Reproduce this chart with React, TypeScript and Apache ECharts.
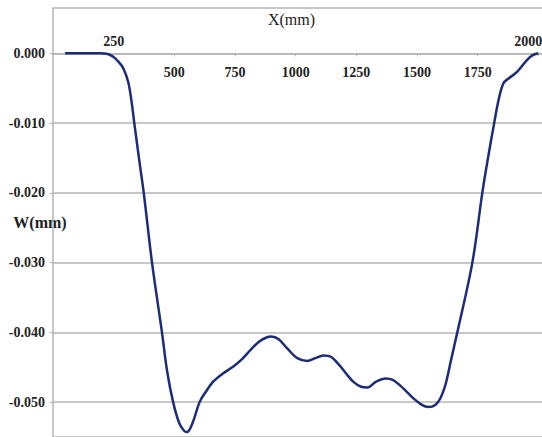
import React, { useEffect, useRef } from "react";
import * as echarts from "echarts";

const xValues = [
  50, 100, 150, 194, 225, 248, 270, 289, 310, 324, 335, 358, 374, 408, 449, 470, 495, 520, 540, 552, 575, 604,
  632, 662, 700, 743, 780, 812, 850, 882, 900, 930, 965, 1007, 1048, 1080, 1114, 1145, 1180, 1210, 1238, 1270,
  1295, 1330, 1370, 1400, 1430, 1460, 1490, 1520, 1547, 1575, 1597, 1618, 1640, 1666, 1728, 1769, 1791, 1818,
  1836, 1856, 1877, 1911, 1952, 1975, 2000,
];
const wValues = [
  0, 0, 0, 0, -0.0001, -0.0005, -0.0012, -0.0021, -0.0041, -0.007, -0.01, -0.016, -0.02, -0.03, -0.04, -0.0455,
  -0.05, -0.053, -0.0541, -0.0543, -0.053, -0.05, -0.0484, -0.047, -0.0459, -0.0449, -0.0438, -0.0426, -0.0413,
  -0.0407, -0.0406, -0.041, -0.0423, -0.0437, -0.0441, -0.0437, -0.0433, -0.0435, -0.0447, -0.046, -0.0471,
  -0.0478, -0.0479, -0.0471, -0.0466, -0.0468, -0.0476, -0.0486, -0.0496, -0.0504, -0.0507, -0.0504, -0.0494,
  -0.0474, -0.044, -0.04, -0.03, -0.02, -0.0153, -0.01, -0.0067, -0.0043, -0.0036, -0.0027, -0.001, -0.0003, 0,
];
const topXLabels = [250, 2000];
const xTitle = "X(mm)";
const yTitle = "W(mm)";

const FONT = "'Liberation Serif', 'Times New Roman', serif";
const GRID = "#b5b5b5";

const W = 542;
const H = 437;
const G_TOP = 8;
const G_LEFT = 53;
const Y_MIN = -0.055;
const Y_MAX = 0.0065;

export default function App() {
  const ref = useRef<HTMLDivElement>(null);
  useEffect(() => {
    if (!ref.current) return;
    const chart = echarts.init(ref.current, null, { renderer: "svg" });
    const labelStyle = { fontFamily: FONT, fontWeight: "bold" as const, fontSize: 14, color: "#222" };
    const plotH = H - G_TOP;
    const zeroY = G_TOP + (plotH * Y_MAX) / (Y_MAX - Y_MIN);
    chart.setOption({
      animation: false,
      backgroundColor: "#fff",
      grid: { left: G_LEFT, right: 0, top: G_TOP, bottom: 0, containLabel: false, outerBoundsMode: "none" },
      xAxis: [
        {
          type: "value",
          min: 0,
          max: 2015,
          interval: 250,
          position: "bottom",
          offset: -(H - zeroY),
          axisLine: { onZero: false, lineStyle: { color: GRID, width: 1.5 } },
          axisTick: { show: true, length: 3, lineStyle: { color: GRID } },
          splitLine: { show: false },
          axisLabel: {
            ...labelStyle,
            margin: 12,
            showMinLabel: false,
            showMaxLabel: false,
            hideOverlap: false,
            formatter: (v: number) => (topXLabels.includes(v) || v === 0 ? "" : String(v)),
          },
        },
        {
          type: "value",
          position: "top",
          min: 0,
          max: 2015,
          interval: 250,
          offset: -(zeroY - G_TOP),
          axisLine: { show: false, onZero: false },
          axisTick: { show: false },
          splitLine: { show: false },
          axisLabel: {
            ...labelStyle,
            margin: 5,
            showMinLabel: false,
            showMaxLabel: false,
            hideOverlap: false,
            formatter: (v: number) =>
              v === topXLabels[1] ? `{edge|${v}}` : topXLabels.includes(v) ? String(v) : "",
            rich: {
              edge: { ...labelStyle, padding: [0, 20, 0, 0] },
            },
          },
          name: xTitle,
          nameLocation: "middle",
          nameGap: 26,
          nameMoveOverlap: false,
          nameTextStyle: { fontFamily: FONT, fontSize: 16, color: "#222", padding: [0, 12, 0, 0] },
        },
      ],
      yAxis: {
        type: "value",
        min: Y_MIN,
        max: Y_MAX,
        splitNumber: 6,
        axisLine: { show: true, lineStyle: { color: GRID, width: 1.5 } },
        axisTick: { show: true, length: 3, lineStyle: { color: GRID } },
        splitLine: { show: true, lineStyle: { color: GRID, width: 1.5 } },
        axisLabel: {
          ...labelStyle,
          margin: 8,
          showMinLabel: false,
          showMaxLabel: false,
          formatter: (v: number) => (Math.abs(v) < 1e-9 ? "0.000" : v.toFixed(3)),
        },
        name: yTitle,
        nameLocation: "middle",
        nameGap: 13,
        nameRotate: 0,
        nameMoveOverlap: false,
        nameTextStyle: {
          fontFamily: FONT,
          fontWeight: "bold",
          fontSize: 16,
          color: "#222",
          align: "center",
          verticalAlign: "middle",
          backgroundColor: "#fff",
          padding: [4, 2, 19, 2],
        },
      },
      series: [
        {
          type: "line",
          xAxisIndex: 0,
          data: xValues.map((x, i) => [x, wValues[i]]),
          smooth: 0.35,
          showSymbol: false,
          lineStyle: { color: "#1c2c78", width: 2.5 },
        },
      ],
    });
    return () => chart.dispose();
  }, []);
  return <div ref={ref} style={{ position: "fixed", left: 0, top: 0, width: W, height: H }} />;
}
